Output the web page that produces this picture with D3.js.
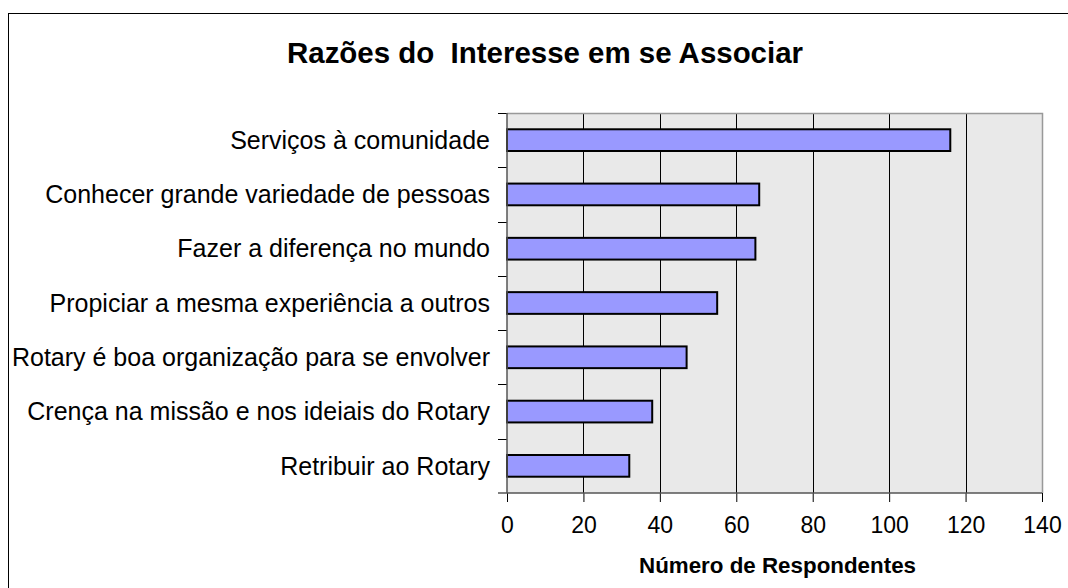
<!DOCTYPE html>
<html>
<head>
<meta charset="utf-8">
<script src="https://cdn.jsdelivr.net/npm/d3@7"></script>
<style>
  body { margin: 0; background: #fff; }
  svg { display: block; font-family: "Liberation Sans", Arial, sans-serif; }
</style>
</head>
<body>
<div id="chart"></div>
<script>
var categorias = [
  "Serviços à comunidade",
  "Conhecer grande variedade de pessoas",
  "Fazer a diferença no mundo",
  "Propiciar a mesma experiência a outros",
  "Rotary é boa organização para se envolver",
  "Crença na missão e nos ideiais do Rotary",
  "Retribuir ao Rotary"
];
var respondentes = [116, 66, 65, 55, 47, 38, 32];
var xTicks = [0, 20, 40, 60, 80, 100, 120, 140];

var width = 1068, height = 588;
var svg = d3.select("#chart").append("svg")
  .attr("width", width).attr("height", height);

// moldura externa
svg.append("rect")
  .attr("x", 8.5).attr("y", 13.5)
  .attr("width", 1080).attr("height", 600)
  .attr("fill", "none").attr("stroke", "#000").attr("stroke-width", 1);

var pLeft = 507, pRight = 1042, pTop = 113, pBottom = 493;

var x = d3.scaleLinear().domain([0, 140]).range([pLeft, pRight]);
var y = d3.scaleBand().domain(categorias).range([pTop, pBottom]).paddingInner(0.6).paddingOuter(0.3);

// fundo da área de plotagem
svg.append("rect")
  .attr("x", pLeft).attr("y", pTop)
  .attr("width", pRight - pLeft).attr("height", pBottom - pTop)
  .attr("fill", "#e9e9e9");

// linhas de grade
svg.selectAll("line.grid")
  .data(xTicks.slice(1, -1))
  .enter().append("line")
  .attr("class", "grid")
  .attr("x1", function(d){ return Math.round(x(d)) + 0.5; })
  .attr("x2", function(d){ return Math.round(x(d)) + 0.5; })
  .attr("y1", pTop).attr("y2", pBottom)
  .attr("stroke", "#000").attr("stroke-width", 1);

// borda superior e direita
svg.append("path")
  .attr("d", "M" + pLeft + "," + (pTop + 0.5) + "H" + (pRight + 0.5) + "V" + pBottom)
  .attr("fill", "none").attr("stroke", "#999").attr("stroke-width", 1.5);

// barras
svg.selectAll("rect.bar")
  .data(respondentes)
  .enter().append("rect")
  .attr("class", "bar")
  .attr("x", x(0))
  .attr("y", function(d, i){ return y(categorias[i]); })
  .attr("width", function(d){ return x(d) - x(0); })
  .attr("height", y.bandwidth())
  .attr("fill", "#9999ff")
  .attr("stroke", "#000").attr("stroke-width", 2);

// eixo x
var xAxis = d3.axisBottom(x).tickValues(xTicks).tickSize(9).tickPadding(15);
var gx = svg.append("g").attr("transform", "translate(0," + pBottom + ")").call(xAxis);
gx.select(".domain").remove();
gx.append("line").attr("x1", pLeft - 9).attr("x2", pRight).attr("y1", 0).attr("y2", 0)
  .attr("stroke", "#555").attr("stroke-width", 1.5);
gx.selectAll(".tick line").attr("stroke", "#000");
gx.selectAll(".tick text").attr("font-size", 23).attr("fill", "#000")
  .attr("font-family", "Liberation Sans, Arial, sans-serif");

// eixo y: marcas nas divisões das categorias
var bandStep = (pBottom - pTop) / categorias.length;
svg.selectAll("line.ytick")
  .data(d3.range(categorias.length))
  .enter().append("line")
  .attr("class", "ytick")
  .attr("x1", pLeft - 9).attr("x2", pLeft)
  .attr("y1", function(i){ return Math.round(pTop + i * bandStep) + 0.5; })
  .attr("y2", function(i){ return Math.round(pTop + i * bandStep) + 0.5; })
  .attr("stroke", "#000");
svg.append("line")
  .attr("x1", pLeft).attr("x2", pLeft).attr("y1", pTop).attr("y2", pBottom)
  .attr("stroke", "#555").attr("stroke-width", 1.5);

svg.selectAll("text.cat")
  .data(categorias)
  .enter().append("text")
  .attr("class", "cat")
  .attr("x", pLeft - 17)
  .attr("y", function(d){ return y(d) + y.bandwidth() / 2; })
  .attr("dy", "0.35em")
  .attr("text-anchor", "end")
  .attr("font-size", 25)
  .text(function(d){ return d; });

// títulos
svg.append("text")
  .attr("x", 287).attr("y", 63)
  .attr("font-size", 29).attr("font-weight", "bold")
  .attr("textLength", 516).attr("lengthAdjust", "spacingAndGlyphs")
  .attr("xml:space", "preserve")
  .text("Razões do  Interesse em se Associar");

svg.append("text")
  .attr("x", 639).attr("y", 573)
  .attr("font-size", 22).attr("font-weight", "bold")
  .attr("textLength", 277).attr("lengthAdjust", "spacingAndGlyphs")
  .text("Número de Respondentes");
</script>
</body>
</html>
